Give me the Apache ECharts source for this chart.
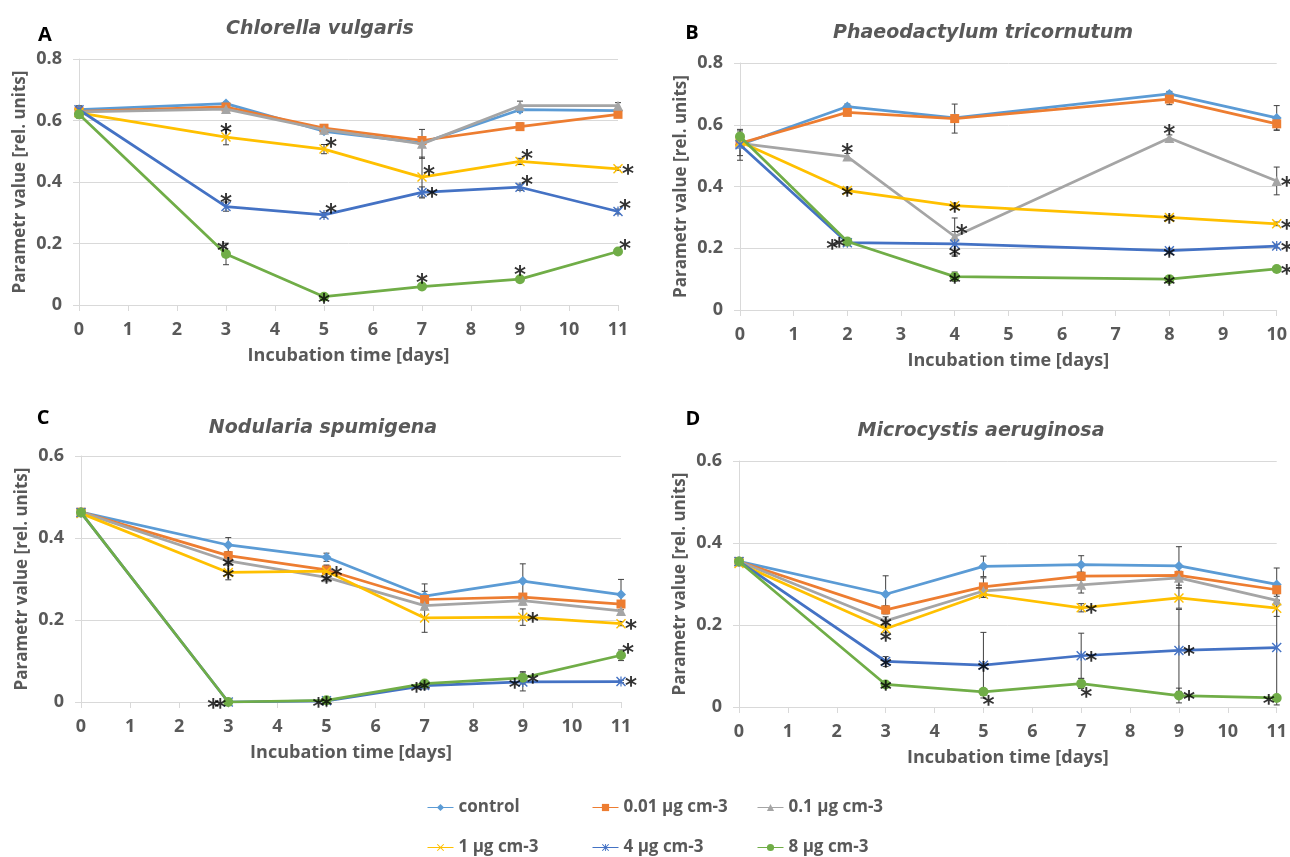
<!DOCTYPE html>
<html><head><meta charset="utf-8">
<script src="https://cdn.jsdelivr.net/npm/echarts@6/dist/echarts.min.js"></script>
<style>html,body{margin:0;padding:0;background:#fff}#c{width:1290px;height:857px}</style>
</head><body><div id="c"></div><script>
// ---------- data ----------
const seriesNames = ['control', '0.01 µg cm-3', '0.1 µg cm-3', '1 µg cm-3', '4 µg cm-3', '8 µg cm-3'];
const panelTitles = ['Chlorella vulgaris', 'Phaeodactylum tricornutum', 'Nodularia spumigena', 'Microcystis aeruginosa'];
const panelLetters = ['A', 'B', 'C', 'D'];
const yMaxes = [0.8, 0.8, 0.6, 0.6];
const xMaxes = [11, 10, 11, 11];
const xAxisName = 'Incubation time [days]';
const yAxisName = 'Parametr value [rel. units]';

const daysA = [0, 3, 5, 7, 9, 11];
const valuesA = [
  [0.635, 0.655, 0.565, 0.527, 0.635, 0.632],
  [0.630, 0.644, 0.575, 0.535, 0.580, 0.620],
  [0.628, 0.637, 0.570, 0.524, 0.648, 0.648],
  [0.625, 0.546, 0.507, 0.416, 0.467, 0.443],
  [0.635, 0.320, 0.293, 0.366, 0.383, 0.304],
  [0.620, 0.166, 0.027, 0.060, 0.084, 0.174]
];
const errorsA = [
  [0.010, 0.005, 0.008, 0.010, 0.008, 0.005],
  [0.010, 0.005, 0.005, 0.010, 0.012, 0.005],
  [0.020, 0.005, 0.005, 0.047, 0.015, 0.010],
  [0.005, 0.025, 0.015, 0.065, 0.010, 0.005],
  [0.005, 0.015, 0.008, 0.018, 0.010, 0.008],
  [0.005, 0.035, 0.005, 0.008, 0.008, 0.008]
];
const starsA = [[3,1,'u'],[3,2,'ur'],[3,3,'ur'],[3,4,'ur'],[3,5,'r'],
  [4,1,'u'],[4,2,'ur'],[4,3,'r'],[4,4,'ur'],[4,5,'ur'],
  [5,1,'ul'],[5,2,'c'],[5,3,'u'],[5,4,'u'],[5,5,'ur']];

const daysB = [0, 2, 4, 8, 10];
const valuesB = [
  [0.535, 0.659, 0.622, 0.700, 0.622],
  [0.540, 0.640, 0.620, 0.683, 0.603],
  [0.540, 0.497, 0.238, 0.557, 0.418],
  [0.545, 0.387, 0.338, 0.300, 0.279],
  [0.535, 0.218, 0.214, 0.192, 0.207],
  [0.562, 0.222, 0.108, 0.100, 0.133]
];
const errorsB = [
  [0.050, 0.008, 0.010, 0.008, 0.040],
  [0.010, 0.008, 0.047, 0.018, 0.020],
  [0.040, 0.010, 0.060, 0.010, 0.045],
  [0.010, 0.008, 0.008, 0.006, 0.006],
  [0.010, 0.010, 0.040, 0.006, 0.006],
  [0.010, 0.010, 0.015, 0.005, 0.005]
];
const starsB = [[2,1,'u'],[2,2,'ur'],[2,3,'u'],[2,4,'r'],
  [3,1,'c'],[3,2,'c'],[3,3,'c'],[3,4,'r'],
  [4,1,'l2'],[5,1,'l'],[4,2,'d'],[4,3,'c'],[4,4,'r'],
  [5,2,'c'],[5,3,'c'],[5,4,'r']];

const daysC = [0, 3, 5, 7, 9, 11];
const valuesC = [
  [0.463, 0.383, 0.353, 0.258, 0.295, 0.262],
  [0.463, 0.357, 0.322, 0.250, 0.256, 0.239],
  [0.463, 0.344, 0.304, 0.235, 0.247, 0.222],
  [0.460, 0.316, 0.319, 0.205, 0.207, 0.191],
  [0.462, 0.000, 0.003, 0.040, 0.049, 0.050],
  [0.462, 0.000, 0.004, 0.045, 0.059, 0.114]
];
const errorsC = [
  [0.005, 0.018, 0.010, 0.030, 0.042, 0.037],
  [0.005, 0.010, 0.010, 0.020, 0.008, 0.006],
  [0.005, 0.010, 0.010, 0.010, 0.010, 0.010],
  [0.005, 0.018, 0.015, 0.035, 0.020, 0.005],
  [0.002, 0.002, 0.002, 0.008, 0.022, 0.003],
  [0.002, 0.002, 0.002, 0.004, 0.015, 0.013]
];
const starsC = [[2,1,'c'],[3,1,'c'],[3,2,'r'],[2,2,'c'],[3,4,'r'],[3,5,'r'],
  [4,1,'l2'],[5,1,'l'],[4,2,'l'],[5,2,'c'],[4,3,'l'],[5,3,'c'],
  [4,4,'l'],[5,4,'r'],[5,5,'ur'],[4,5,'r']];

const daysD = [0, 3, 5, 7, 9, 11];
const valuesD = [
  [0.355, 0.275, 0.343, 0.347, 0.344, 0.299],
  [0.355, 0.237, 0.293, 0.319, 0.321, 0.286],
  [0.355, 0.210, 0.283, 0.298, 0.315, 0.260],
  [0.350, 0.191, 0.275, 0.242, 0.266, 0.241],
  [0.355, 0.111, 0.102, 0.125, 0.138, 0.145],
  [0.355, 0.055, 0.037, 0.057, 0.028, 0.022]
];
const errorsD = [
  [0.008, 0.045, 0.025, 0.022, 0.047, 0.040],
  [0.005, 0.010, 0.022, 0.010, 0.010, 0.010],
  [0.005, 0.010, 0.010, 0.020, 0.025, 0.010],
  [0.005, 0.010, 0.008, 0.010, 0.025, 0.020],
  [0.005, 0.012, 0.080, 0.055, 0.100, 0.140],
  [0.005, 0.005, 0.008, 0.012, 0.018, 0.005]
];
const starsD = [[2,1,'c'],[3,1,'d'],[3,3,'r'],[4,1,'c'],[4,2,'c'],[4,3,'r'],[4,4,'r'],
  [5,1,'c'],[5,2,'dr'],[5,3,'dr'],[5,4,'r'],[5,5,'l']];

// ---------- styles / layout ----------
const colors = ['#5B9BD5', '#ED7D31', '#A5A5A5', '#FFC000', '#4472C4', '#70AD47'];
const xPath = 'path://M1,0L5,4L9,0L10,1L6,5L10,9L9,10L5,6L1,10L0,9L4,5L0,1Z';
const starPath = 'path://M1,0L5,4L9,0L10,1L6,5L10,9L9,10L5,6L1,10L0,9L4,5L0,1Z M4.4,0L5.6,0L5.6,10L4.4,10Z';
const symbols = ['diamond', 'rect', 'triangle', xPath, starPath, 'circle'];
const symbolSizes = [10, 9, 10, 10, 10, 10];
const starOffsets = { c:[0,0], u:[0,-10], ur:[7,-8], r:[10,-1], l:[-8,0], l2:[-15,0], ul:[-3,-9], d:[0,6], dr:[5,7] };

const grids = [
  { left: 79, top: 59, width: 539, height: 246 },
  { left: 740, top: 63, width: 540, height: 247 },
  { left: 81, top: 456, width: 540, height: 246 },
  { left: 739, top: 461, width: 540, height: 246 }
];
const titlePos = [[315, 24], [978, 28], [318, 423], [976, 426]];
const letterPos = [[45, 35], [692, 33], [43, 418], [693, 419]];
const legendPos = [[427, 807], [592, 807], [757, 807], [427, 847], [592, 847], [757, 847]];

const panels = [
  { days: daysA, values: valuesA, errors: errorsA, stars: starsA },
  { days: daysB, values: valuesB, errors: errorsB, stars: starsB },
  { days: daysC, values: valuesC, errors: errorsC, stars: starsC },
  { days: daysD, values: valuesD, errors: errorsD, stars: starsD }
];

const FONT = '"Open Sans", "Liberation Sans", sans-serif';
const TITLE_FONT = '"DejaVu Sans", sans-serif';
const textGray = '#595959';
const lineGray = '#D9D9D9';

function renderErr(params, api) {
  const x = api.value(0), lo = api.value(1), hi = api.value(2);
  const p1 = api.coord([x, lo]), p2 = api.coord([x, hi]);
  const w = 3;
  const st = { stroke: '#404040', lineWidth: 1 };
  return { type: 'group', children: [
    { type: 'line', shape: { x1: p1[0], y1: p1[1], x2: p2[0], y2: p2[1] }, style: st },
    { type: 'line', shape: { x1: p1[0] - w, y1: p1[1], x2: p1[0] + w, y2: p1[1] }, style: st },
    { type: 'line', shape: { x1: p2[0] - w, y1: p2[1], x2: p2[0] + w, y2: p2[1] }, style: st }
  ]};
}

const option = {
  backgroundColor: '#fff',
  animation: false,
  title: [], grid: [], xAxis: [], yAxis: [], series: [], legend: [], graphic: []
};

panels.forEach((p, i) => {
  option.grid.push(Object.assign({ containLabel: false }, grids[i]));
  option.title.push({
    text: panelTitles[i], left: titlePos[i][0], top: titlePos[i][1], textAlign: 'center', textVerticalAlign: 'middle',
    textStyle: { fontFamily: TITLE_FONT, fontSize: 19, fontWeight: 'bold', fontStyle: 'italic', color: textGray }
  });
  option.graphic.push({
    type: 'text', x: letterPos[i][0], y: letterPos[i][1],
    style: { text: panelLetters[i], fill: '#000', font: 'bold 20px ' + FONT, textAlign: 'center', textVerticalAlign: 'middle' }
  });
  option.xAxis.push({
    gridIndex: i, type: 'value', min: 0, max: xMaxes[i], interval: 1,
    name: xAxisName, nameLocation: 'middle', nameGap: 42,
    nameTextStyle: { fontFamily: FONT, fontSize: 18, fontWeight: 'bold', color: textGray },
    axisLine: { show: true, lineStyle: { color: lineGray, width: 1 } },
    axisTick: { show: true, length: 6, lineStyle: { color: lineGray } },
    axisLabel: { margin: 16, fontFamily: FONT, fontSize: 18, fontWeight: 'bold', color: textGray },
    splitLine: { show: false }
  });
  option.yAxis.push({
    gridIndex: i, type: 'value', min: 0, max: yMaxes[i], interval: 0.2,
    name: yAxisName, nameLocation: 'middle', nameGap: 50,
    nameTextStyle: { fontFamily: FONT, fontSize: 17, fontWeight: 'bold', color: textGray },
    axisLine: { show: true, lineStyle: { color: lineGray, width: 1 } },
    axisTick: { show: true, length: 6, lineStyle: { color: lineGray } },
    axisLabel: { margin: 17, fontFamily: FONT, fontSize: 18, fontWeight: 'bold', color: textGray },
    splitLine: { show: true, lineStyle: { color: lineGray, width: 1 } }
  });
  // error bars
  const errData = [];
  p.values.forEach((vals, s) => vals.forEach((v, d) => {
    errData.push([p.days[d], v - p.errors[s][d], v + p.errors[s][d]]);
  }));
  option.series.push({
    type: 'custom', name: 'err' + i, xAxisIndex: i, yAxisIndex: i, renderItem: renderErr,
    data: errData, encode: { x: 0, y: [1, 2] }, z: 1, silent: true
  });
  // lines
  p.values.forEach((vals, s) => {
    option.series.push({
      type: 'line', name: seriesNames[s], xAxisIndex: i, yAxisIndex: i,
      data: vals.map((v, d) => [p.days[d], v]),
      symbol: symbols[s], symbolSize: symbolSizes[s], showAllSymbol: true,
      lineStyle: { color: colors[s], width: 2.75 },
      itemStyle: { color: colors[s] },
      z: 2 + s
    });
  });
  // significance asterisks
  option.series.push({
    type: 'scatter', name: 'stars' + i, xAxisIndex: i, yAxisIndex: i, z: 20, silent: true,
    symbolSize: 1, itemStyle: { color: 'rgba(0,0,0,0)' },
    data: p.stars.map(([s, d, code]) => {
      const o = starOffsets[code];
      return { value: [p.days[d], p.values[s][d]], label: { offset: [o[0], o[1] + 7] } };
    }),
    label: { show: true, position: 'inside', formatter: '*', fontFamily: '"DejaVu Sans"', fontSize: 23, fontWeight: 'bold', color: '#000' }
  });
});

seriesNames.forEach((n, k) => {
  option.legend.push({
    data: [n], left: legendPos[k][0], top: legendPos[k][1] - 8, orient: 'horizontal',
    itemWidth: 26, itemHeight: 9, itemGap: 5, padding: 0,
    lineStyle: { width: 1 },
    textStyle: { fontFamily: FONT, fontSize: 17, fontWeight: 'bold', color: textGray },
    selectedMode: false
  });
});

const chart = echarts.init(document.getElementById('c'), null, { renderer: 'canvas' });
chart.setOption(option);
</script></body></html>
